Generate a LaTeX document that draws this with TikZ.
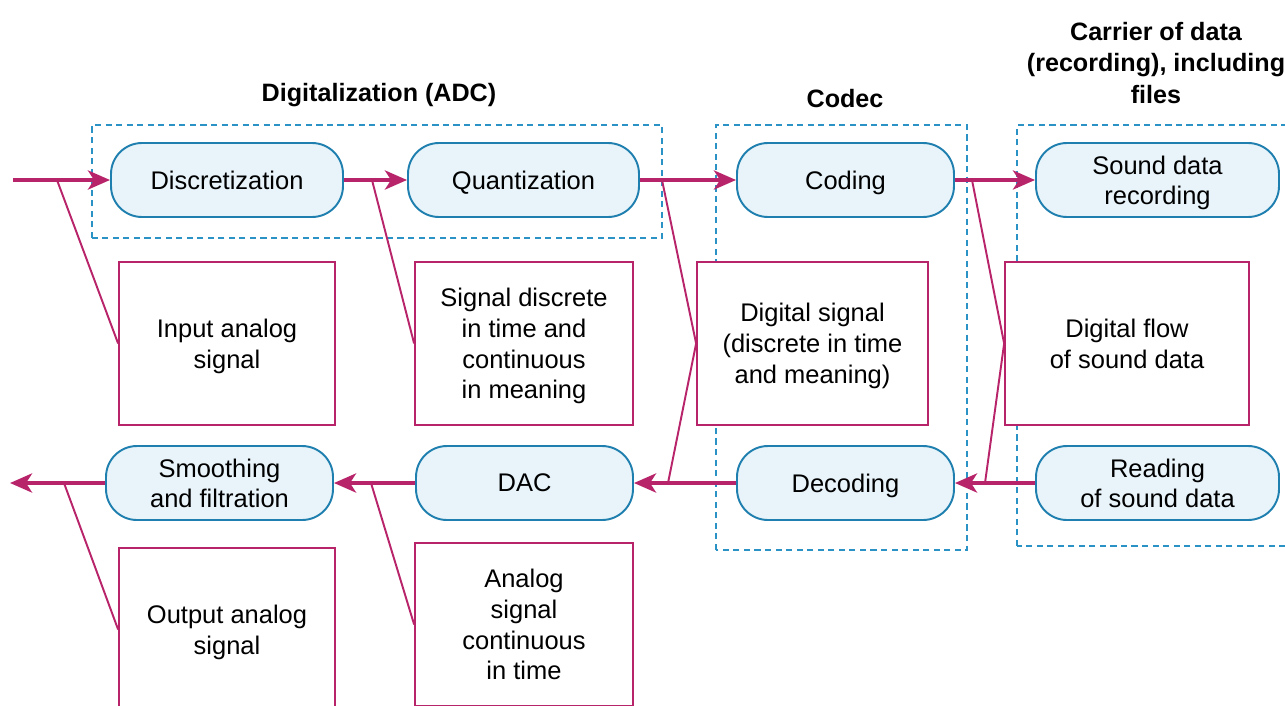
\documentclass[tikz,border=0pt]{standalone}
\usepackage{fontspec}
\setmainfont{Liberation Sans}
\usetikzlibrary{arrows.meta}

\definecolor{flowred}{HTML}{B8246A}
\definecolor{stepblue}{HTML}{1F7FAF}
\definecolor{stepfill}{HTML}{E8F4FA}
\definecolor{groupblue}{HTML}{2A92C4}

\begin{document}
\begin{tikzpicture}[
	step_node/.style={draw=stepblue,fill=stepfill,line width=1.1pt,rounded corners=0.62cm,
		minimum height=1.48cm,align=center,text depth=0pt,font=\fontsize{14.5}{17}\selectfont},
	note_box/.style={draw=flowred,fill=white,line width=1pt,minimum height=3.26cm,
		align=center,text depth=0pt,font=\fontsize{14.5}{17.5}\selectfont},
	group_box/.style={draw=groupblue,line width=1pt,dash pattern=on 3.5pt off 2.5pt},
	group_title/.style={align=center,font=\bfseries\fontsize{14.3}{18}\selectfont},
	flow_arrow/.style={draw=flowred,line width=2.4pt,-{Stealth[length=0.44cm,width=0.38cm,inset=0.12cm]}},
	note_line/.style={draw=flowred,line width=1.1pt}]

	\path[use as bounding box,clip] (0,0) rectangle (25.7,14.1);

	% dashed groups
	\draw[group_box] (1.84,9.34) rectangle (13.24,11.6);
	\draw[group_box] (14.32,3.1) rectangle (19.34,11.6);
	\draw[group_box] (20.34,3.18) rectangle (26.2,11.6);

	\node[group_title] (adc_title) at (7.58,12.2) {Digitalization (ADC)};
	\node[group_title] (codec_title) at (16.9,12.12) {Codec};
	\node[group_title] (carrier_title) at (23.12,12.84) {Carrier of data\\(recording), including\\files};

	% processing steps
	\node[step_node,minimum width=4.64cm] (disc) at (4.54,10.5) {Discretization};
	\node[step_node,minimum width=4.62cm] (quant) at (10.47,10.5) {Quantization};
	\node[step_node,minimum width=4.34cm] (cod) at (16.91,10.5) {Coding};
	\node[step_node,minimum width=4.86cm] (rec) at (23.15,10.5) {Sound data\\recording};
	\node[step_node,minimum width=4.86cm] (read) at (23.15,4.44) {Reading\\of sound data};
	\node[step_node,minimum width=4.34cm] (dec) at (16.91,4.44) {Decoding};
	\node[step_node,minimum width=4.34cm] (dac) at (10.49,4.44) {DAC};
	\node[step_node,minimum width=4.54cm] (smooth) at (4.39,4.44) {Smoothing\\and filtration};

	% signal notes
	\node[note_box,minimum width=4.32cm] (in_sig) at (4.54,7.23) {Input analog\\signal};
	\node[note_box,minimum width=4.36cm] (disc_sig) at (10.48,7.23) {Signal discrete\\in time and\\continuous\\in meaning};
	\node[note_box,minimum width=4.62cm] (dig_sig) at (16.25,7.23) {Digital signal\\(discrete in time\\and meaning)};
	\node[note_box,minimum width=4.88cm] (dig_flow) at (22.54,7.23) {Digital flow\\of sound data};
	\node[note_box,minimum width=4.32cm] (out_sig) at (4.54,1.51) {Output analog\\signal};
	\node[note_box,minimum width=4.36cm] (an_sig) at (10.48,1.61) {Analog\\signal\\continuous\\in time};

	\coordinate (in_start) at (0.26,10.5);
	\coordinate (out_end) at (0.2,4.44);

	% signal path
	\draw[flow_arrow] (in_start) -- (disc);
	\draw[flow_arrow] (disc) -- (quant);
	\draw[flow_arrow] (quant) -- (cod);
	\draw[flow_arrow] (cod) -- (rec);
	\draw[flow_arrow] (read) -- (dec);
	\draw[flow_arrow] (dec) -- (dac);
	\draw[flow_arrow] (dac) -- (smooth);
	\draw[flow_arrow] (smooth) -- (out_end);

	% callouts
	\coordinate (c_in) at (1.14,10.5);
	\coordinate (c_disc) at (7.44,10.5);
	\coordinate (c_quant) at (13.24,10.5);
	\coordinate (c_dec) at (13.36,4.44);
	\coordinate (c_cod) at (19.44,10.5);
	\coordinate (c_read) at (19.7,4.44);
	\coordinate (c_smooth) at (1.28,4.44);
	\coordinate (c_dac) at (7.42,4.44);

	\draw[note_line] (c_in) -- (in_sig.west);
	\draw[note_line] (c_disc) -- (disc_sig.west);
	\draw[note_line] (c_quant) -- (dig_sig.west) -- (c_dec);
	\draw[note_line] (c_cod) -- (dig_flow.west) -- (c_read);
	\draw[note_line] (c_smooth) -- (out_sig.west);
	\draw[note_line] (c_dac) -- (an_sig.west);
\end{tikzpicture}
\end{document}
